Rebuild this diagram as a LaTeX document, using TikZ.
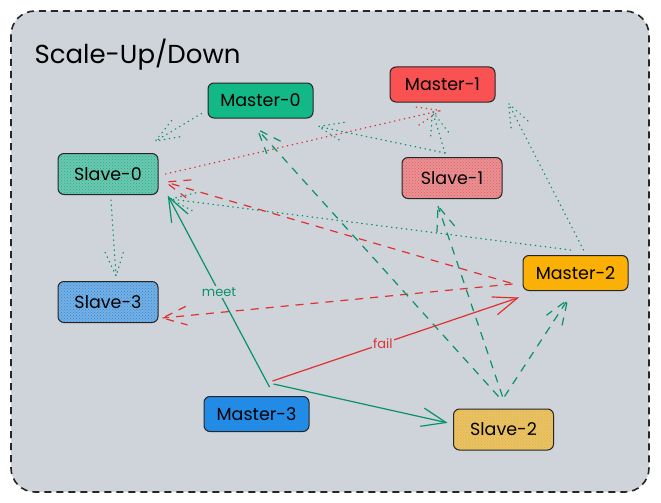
\documentclass[tikz,border=0pt]{standalone}
\usepackage{fontspec}
\setmainfont{Poppins}
\usetikzlibrary{arrows.meta,patterns,calc}
\definecolor{bgc}{HTML}{CED4DA}
\definecolor{cgreen}{HTML}{12B886}
\definecolor{cred}{HTML}{FA5252}
\definecolor{corange}{HTML}{FAB005}
\definecolor{cblue}{HTML}{228BE6}
\definecolor{lgreen}{HTML}{099268}
\definecolor{lred}{HTML}{E03131}
\newcommand\harrow[3]{%
  \draw[#1] #2 -- #3;
  \draw[#1] ($#3!26pt!21:#2$) -- #3 -- ($#3!26pt!-21:#2$);
}
\begin{document}
\begin{tikzpicture}[x=1pt,y=-1pt,
  box/.style={draw=black!85,line width=1pt,rounded corners=6pt,
    minimum width=105pt,minimum height=35pt,inner sep=0pt,
    font=\fontsize{17.5}{20}\selectfont},
  master/.style={box,fill=#1},
  slave/.style={box,minimum width=100pt,minimum height=41pt,
    preaction={fill=#1!50!bgc},pattern=crosshatch dots,pattern color=#1},
  gdot/.style={draw=lgreen,line width=1.3pt,line cap=round,dash pattern=on 0.5pt off 4.5pt},
  rdot/.style={draw=lred,line width=1.3pt,line cap=round,dash pattern=on 0.5pt off 4.5pt},
  gdash/.style={draw=lgreen,line width=1.2pt,dash pattern=on 8pt off 7pt},
  rdash/.style={draw=lred,line width=1.2pt,dash pattern=on 8pt off 7pt},
  gsolid/.style={draw=lgreen,line width=1.2pt},
  rsolid/.style={draw=lred,line width=1.2pt},
  elabel/.style={fill=bgc,inner sep=1.5pt,font=\fontsize{13}{15}\selectfont}
]
\useasboundingbox (0,0) rectangle (661,503);
\draw[fill=bgc,draw=black!85,line width=1.6pt,dash pattern=on 7pt off 5pt,rounded corners=24pt]
  (11,11) rectangle (649,492);
\node[anchor=west,font=\fontsize{26}{30}\selectfont] (title) at (31,55) {Scale-Up/Down};

\node[master=cgreen] (m0) at (260.5,100.5) {Master-0};
\node[master=cred] (m1) at (442.5,84.5) {Master-1};
\node[slave=cgreen] (s0) at (108,174) {Slave-0};
\node[slave=cred] (s1) at (452,178) {Slave-1};
\node[master=corange] (m2) at (575.5,273) {Master-2};
\node[slave=cblue] (s3) at (108,302) {Slave-3};
\node[master=cblue] (m3) at (256.5,414) {Master-3};
\node[slave=corange] (s2) at (503.5,429.5) {Slave-2};

% dotted connectors
\harrow{gdot}{([xshift=-6,yshift=5]m0.south west)}{([xshift=-3,yshift=12]s0.north east)}
\harrow{rdot}{([xshift=7]s0.east)}{([xshift=-2,yshift=-8]m1.south)}
\harrow{gdot}{([xshift=-7,yshift=4]s1.north)}{([xshift=-10,yshift=-9]m1.south)}
\harrow{gdot}{([xshift=-7,yshift=4]s1.north)}{([xshift=5,yshift=-8]m0.south east)}
\harrow{gdot}{([xshift=8,yshift=5]m2.north)}{([xshift=13,yshift=-1]m1.south east)}
\harrow{gdot}{([xshift=-5,yshift=5]m2.north)}{([xshift=12,yshift=-4]s0.south east)}
\harrow{gdot}{([xshift=3,yshift=-5]s0.south)}{([xshift=8,yshift=5]s3.north)}

% red dashed
\harrow{rdash}{([xshift=-12,yshift=-10]m2.west)}{([xshift=7,yshift=-8]s0.east)}
\harrow{rdash}{([xshift=-10,yshift=-11]m2.west)}{([xshift=4,yshift=-16]s3.east)}

% green dashed from Slave-2
\harrow{gdash}{([xshift=-5,yshift=12]s2.north)}{([xshift=-3,yshift=-11]m0.south)}
\harrow{gdash}{([xshift=-1,yshift=12]s2.north)}{([xshift=-14,yshift=-7]s1.south)}
\harrow{gdash}{([xshift=1,yshift=12]s2.north)}{([xshift=-8,yshift=-9]m2.south)}

% solid from Master-3
\harrow{gsolid}{([xshift=13,yshift=9]m3.north)}{([xshift=10,yshift=-2]s0.south east)}
\path ([xshift=13,yshift=9]m3.north) -- ([xshift=10,yshift=-2]s0.south east)
  node[elabel,text=lgreen,pos=0.5] (lmeet) {meet};
\harrow{gsolid}{([xshift=17,yshift=12]m3.north)}{([xshift=-7,yshift=7]s2.west)}
\harrow{rsolid}{([xshift=16,yshift=15]m3.north)}{([xshift=-5,yshift=-7]m2.south west)}
\path ([xshift=16,yshift=15]m3.north) -- ([xshift=-5,yshift=-7]m2.south west)
  node[elabel,text=lred,pos=0.45] (lfail) {fail};
\end{tikzpicture}
\end{document}
